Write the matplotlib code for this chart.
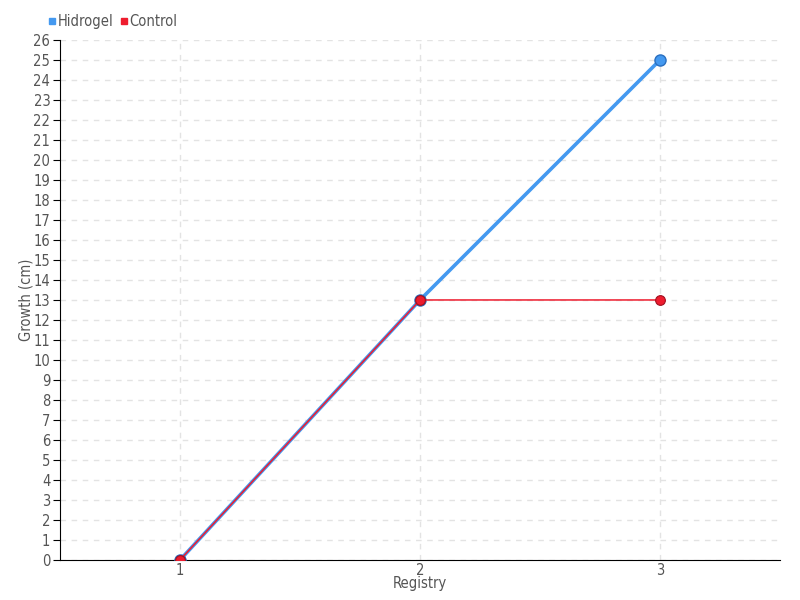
import matplotlib
matplotlib.use("Agg")
import matplotlib.pyplot as plt
from matplotlib.lines import Line2D

registry = [1, 2, 3]
hidrogel = [0, 13, 25]
control = [0, 13, 13]
yticks = list(range(0, 27))

plt.rcParams['font.family'] = ['DejaVu Sans']
plt.rcParams['font.stretch'] = 'condensed'

fig = plt.figure(figsize=(8, 6), dpi=100)
ax = fig.add_axes([0.075, 0.0667, 0.9, 0.8667])

blue = '#4499f0'
red = '#ee1c2e'

ax.plot(registry, hidrogel, color=blue, lw=2.6, marker='o', ms=8,
        markerfacecolor=blue, markeredgecolor='#2a6fc0', markeredgewidth=1, zorder=3)
ax.plot(registry, control, color=red, lw=1.1, marker='o', ms=7,
        markerfacecolor=red, markeredgecolor='#a01020', markeredgewidth=0.8, zorder=4)

ax.set_xlim(0.5, 3.5)
ax.set_ylim(0, 26)
ax.set_xticks(registry)
ax.set_yticks(yticks)
ax.grid(True, color='#e3e3e3', linestyle=(0, (4, 4)), linewidth=1)
ax.set_axisbelow(True)
for s in ['top', 'right']:
    ax.spines[s].set_visible(False)
ax.spines['left'].set_color('black')
ax.spines['bottom'].set_color('black')
ax.tick_params(axis='y', direction='out', length=5, color='black', labelsize=10.5, labelcolor='#555555', pad=2)
ax.tick_params(axis='x', direction='out', length=0, color='#666666', labelsize=10.5, labelcolor='#555555', pad=2)
ax.set_xlabel('Registry', fontsize=10.5, color='#555555', labelpad=-1)
ax.set_ylabel('Growth (cm)', fontsize=10.5, color='#555555', labelpad=0)

handles = [Line2D([], [], marker='s', ls='', color=blue, ms=4.5),
           Line2D([], [], marker='s', ls='', color=red, ms=4.5)]
leg = fig.legend(handles, ['Hidrogel', 'Control'], loc='upper left', bbox_to_anchor=(0.045, 0.998),
                 ncol=2, frameon=False, fontsize=10.5, handlelength=0.4, handletextpad=0.2,
                 columnspacing=0.5, labelcolor='#555555')

fig.savefig('out.png', dpi=100)
